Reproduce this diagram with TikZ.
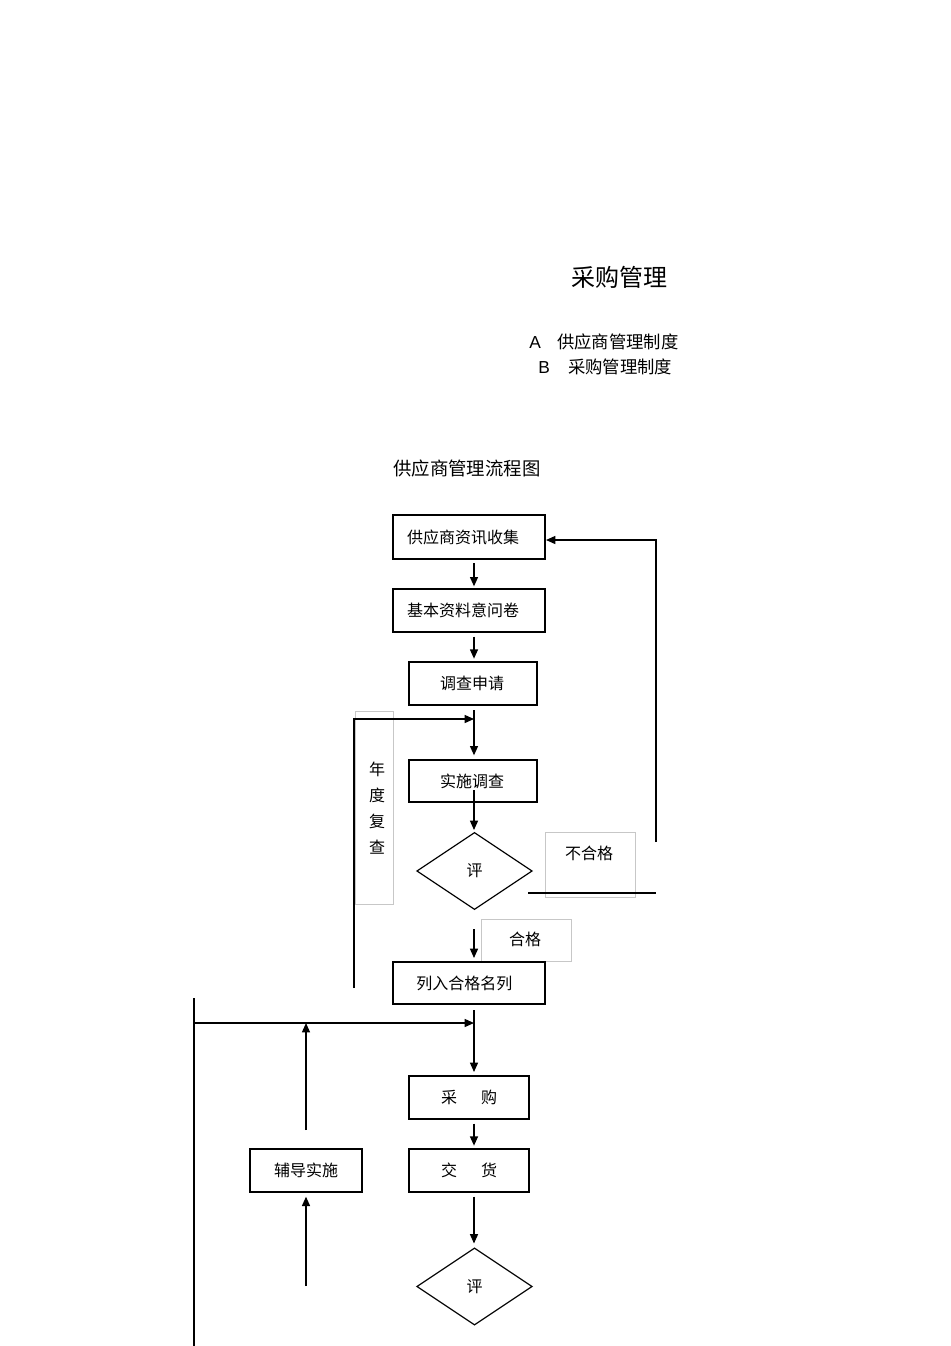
\documentclass[tikz,border=0pt]{standalone}
\usepackage{fontspec}
\setmainfont{Liberation Sans}
\newfontfamily\cjk{Noto Sans CJK SC}
\usetikzlibrary{shapes.geometric,arrows.meta,calc}
\begin{document}
\begin{tikzpicture}[x=0.75pt,y=-0.75pt,
  box/.style={draw=black,line width=1pt,rectangle,inner sep=0pt,outer sep=0pt,font=\cjk\fontsize{12pt}{14pt}\selectfont},
  dia/.style={draw=black,line width=0.9pt,diamond,inner sep=0pt,outer sep=0pt,minimum width=86.25pt,minimum height=57.5pt,font=\cjk\fontsize{12pt}{14pt}\selectfont},
  graybox/.style={draw=black!22,line width=0.5pt,rectangle,inner sep=0pt,outer sep=0pt},
  lbl/.style={font=\cjk\fontsize{12pt}{14pt}\selectfont,inner sep=0pt},
  conn/.style={line width=1pt,draw=black},
  arr/.style={conn,-{Triangle[length=7pt,width=6pt]}}]
\useasboundingbox (0,0) rectangle (950,1346);
% header
\node[font=\cjk\fontsize{18pt}{20pt}\selectfont,inner sep=0pt] (title) at (619,277) {采购管理};
\node[anchor=west,font=\fontsize{13pt}{15pt}\selectfont,inner sep=0pt] (la) at (529,342) {A\hspace{0.95em}{\cjk 供应商管理制度}};
\node[anchor=west,font=\fontsize{13pt}{15pt}\selectfont,inner sep=0pt] (lb) at (538,367) {B\hspace{1.05em}{\cjk 采购管理制度}};
\node[anchor=west,font=\cjk\fontsize{13.8pt}{16pt}\selectfont,inner sep=0pt] (ft) at (393,468) {供应商管理流程图};
% gray label boxes
\node[graybox,minimum width=28.5pt,minimum height=144.75pt] (gy) at (374,807.5) {};
\node[lbl,align=center,font=\cjk\fontsize{12pt}{19.5pt}\selectfont] (gyt) at (377,808) {年\\度\\复\\查};
\node[graybox,minimum width=67.5pt,minimum height=48.75pt] (gn) at (590,864.5) {};
\node[lbl] (gnt) at (589,853) {不合格};
\node[graybox,minimum width=67.5pt,minimum height=31.5pt] (gh) at (526,940) {};
\node[lbl] (ght) at (525,939) {合格};
% main nodes
\node[box,minimum width=114pt,minimum height=33pt] (b1) at (469,537) {\raisebox{-1pt}{供应商资讯收集}\kern9pt};
\node[box,minimum width=114pt,minimum height=32.25pt] (b2) at (469,610.5) {\raisebox{-1pt}{基本资料意问卷}\kern9pt};
\node[box,minimum width=96pt,minimum height=32.25pt] (b3) at (473,683.5) {\raisebox{-1pt}{调查申请}\kern1.5pt};
\node[box,minimum width=96pt,minimum height=31.5pt] (b4) at (473,781) {\raisebox{-1pt}{实施调查}\kern1.5pt};
\node[dia] (d1) at (474.5,871) {评};
\node[box,minimum width=114pt,minimum height=31.5pt] (b5) at (469,983) {\raisebox{-1pt}{列入合格名列}\kern7pt};
\node[box,minimum width=90pt,minimum height=32.25pt] (b6) at (469,1097.5) {\raisebox{-2pt}{采\hspace{1.5em}购}};
\node[box,minimum width=90pt,minimum height=32.25pt] (b7) at (469,1170.5) {\raisebox{-2pt}{交\hspace{1.5em}货}};
\node[box,minimum width=84pt,minimum height=32.25pt] (b8) at (306,1170.5) {\raisebox{-2pt}{辅导实施}};
\node[dia] (d2) at (474.5,1286.5) {\raisebox{-1pt}{评}};
% helper coordinates
\coordinate (x) at (474,0);
\coordinate (l1) at (354,988);
\coordinate (l2) at (474,719);
\coordinate (s4) at (474,790);
\coordinate (s5) at (474,929);
\coordinate (r1) at (656,842);
\coordinate (r2) at (546,540);
\coordinate (h1) at (528,893);
\coordinate (h2) at (656,893);
\coordinate (p1) at (194,998);
\coordinate (p2) at (194,1346);
\coordinate (q1) at (194,1023);
\coordinate (q2) at (474,1023);
\coordinate (u1) at (306,1130);
\coordinate (u2) at (306,1023);
\coordinate (v1) at (306,1286);
% connectors
\draw[arr,shorten <=3pt,shorten >=2pt] (b1.south -| x) -- (b2.north -| x);
\draw[arr,shorten <=3.5pt,shorten >=2.5pt] (b2.south -| x) -- (b3.north -| x);
\draw[arr,shorten <=4pt,shorten >=3.5pt] (b3.south -| x) -- (b4.north -| x);
\draw[arr] (l1) |- (l2);
\draw[arr,shorten >=2pt] (s4) -- (d1.north -| x);
\draw[arr] (r1) |- (r2);
\draw[conn] (h1) -- (h2);
\draw[arr,shorten >=3pt] (s5) -- (b5.north -| x);
\draw[arr,shorten <=4.5pt,shorten >=3pt] (b5.south -| x) -- (b6.north -| x);
\draw[conn] (p1) -- (p2);
\draw[arr] (q1) -- (q2);
\draw[arr] (u1) -- (u2);
\draw[arr,shorten >=3.5pt] (v1) -- (b8.south);
\draw[arr,shorten <=3.5pt,shorten >=2.5pt] (b6.south -| x) -- (b7.north -| x);
\draw[arr,shorten <=3.5pt,shorten >=3.5pt] (b7.south -| x) -- (d2.north -| x);
\end{tikzpicture}
\end{document}
